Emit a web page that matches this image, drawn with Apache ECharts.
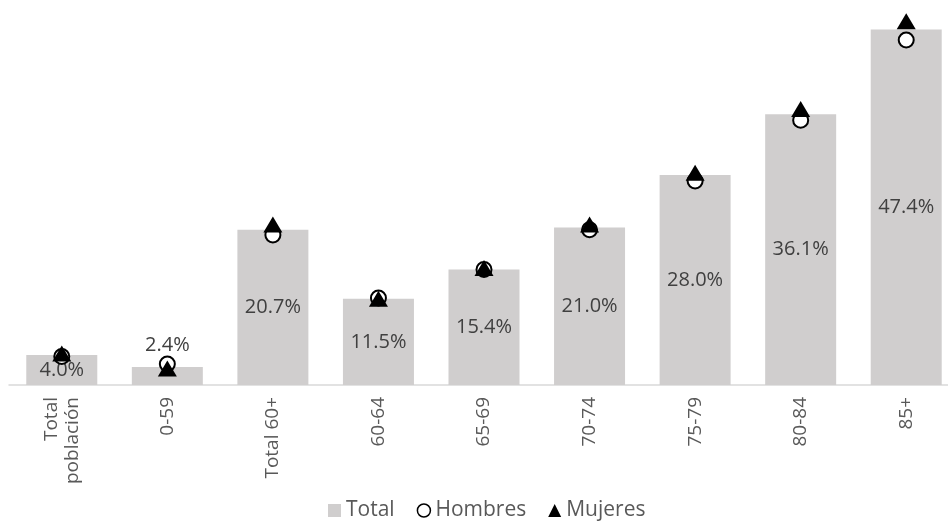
<!DOCTYPE html>
<html>
<head>
<meta charset="utf-8">
<script src="https://cdn.jsdelivr.net/npm/echarts@6/dist/echarts.min.js"></script>
<style>
  html, body { margin: 0; padding: 0; background: #fff; }
  #chart { width: 948px; height: 521px; }
</style>
</head>
<body>
<div id="chart"></div>
<script>
var categories = ['Total\npoblación', '0-59', 'Total 60+', '60-64', '65-69', '70-74', '75-79', '80-84', '85+'];
var totalValues = [4.0, 2.4, 20.7, 11.5, 15.4, 21.0, 28.0, 36.1, 47.4];
var hombresValues = [3.8, 2.8, 20.0, 11.6, 15.4, 20.7, 27.2, 35.3, 46.0];
var mujeresValues = [4.2, 2.2, 21.4, 11.5, 15.6, 21.4, 28.3, 36.8, 48.5];

var chart = echarts.init(document.getElementById('chart'));

var font = '"Open Sans", sans-serif';

// the 0-59 label sits above its bar, the others in the middle
var barData = totalValues.map(function (v, i) {
    var item = { value: v };
    if (i === 1) {
        item.label = { position: 'top', distance: 12 };
    }
    return item;
});

chart.setOption({
    animation: false,
    grid: {
        left: 9,
        top: 10,
        right: -11,
        bottom: 136,
        outerBoundsMode: 'none'
    },
    legend: {
        top: 500,
        left: 328,
        padding: 0,
        itemGap: 22,
        itemWidth: 13,
        itemHeight: 13,
        textStyle: { fontFamily: font, fontSize: 21, color: '#595959' },
        data: [
            { name: 'Total', icon: 'rect', itemStyle: { color: '#d0cece' } },
            { name: 'Hombres', icon: 'circle', itemStyle: { color: '#fff', borderColor: '#000', borderWidth: 1.5 } },
            { name: 'Mujeres', icon: 'triangle', itemStyle: { color: '#000' } }
        ]
    },
    xAxis: {
        type: 'category',
        data: categories,
        axisLine: { lineStyle: { color: '#d9d9d9', width: 1.5 } },
        axisTick: { show: false },
        axisLabel: {
            rotate: 90,
            margin: 12,
            fontFamily: font,
            fontSize: 19,
            color: '#595959',
            lineHeight: 21
        }
    },
    yAxis: {
        type: 'value',
        min: 0,
        max: 50,
        show: false
    },
    series: [{
        name: 'Total',
        type: 'bar',
        data: barData,
        barWidth: 71,
        itemStyle: { color: '#d0cece' },
        label: {
            show: true,
            position: 'inside',
            formatter: function (p) { return p.value.toFixed(1) + '%'; },
            fontFamily: font,
            fontSize: 20,
            color: '#404040'
        },
        z: 1
    }, {
        name: 'Hombres',
        type: 'scatter',
        data: hombresValues,
        symbol: 'circle',
        symbolSize: 15,
        itemStyle: { color: '#fff', borderColor: '#000', borderWidth: 2, opacity: 1 },
        z: 3
    }, {
        name: 'Mujeres',
        type: 'scatter',
        data: mujeresValues,
        symbol: 'triangle',
        symbolSize: [19, 16],
        itemStyle: { color: '#000', opacity: 1 },
        z: 4
    }]
});
</script>
</body>
</html>
